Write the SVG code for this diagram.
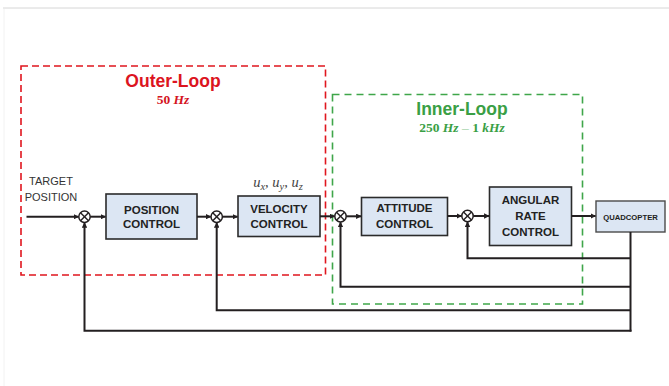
<svg xmlns="http://www.w3.org/2000/svg" width="669" height="386" viewBox="0 0 669 386">
<style>
  .box { fill: #dce6f3; stroke: #2b2b2b; stroke-width: 1.6; }
  .lbl { font-family: "Liberation Sans", Arial, sans-serif; font-weight: bold; font-size: 11.5px; fill: #222; text-anchor: middle; }
  .wire { fill: none; stroke: #231f20; stroke-width: 2; }
  .sum circle { fill: #fff; stroke: #231f20; stroke-width: 1.5; }
  .sum line { stroke: #231f20; stroke-width: 1.5; }
  .math { font-family: "Liberation Serif", "Times New Roman", serif; font-weight: bold; text-anchor: middle; }
</style>
<defs>
  <marker id="arr" viewBox="0 0 10 10" refX="9" refY="5" markerWidth="5.5" markerHeight="5.5" markerUnits="userSpaceOnUse" orient="auto">
    <path d="M0,0 L10,5 L0,10 z" fill="#231f20"/>
  </marker>
</defs>
<rect width="669" height="386" fill="#fff"/>
<line x1="3" y1="8" x2="669" y2="8" stroke="#d6d6d6" stroke-width="1"/>
<line x1="4" y1="9" x2="4" y2="386" stroke="#f2f2f2" stroke-width="1"/>

<g id="outer-loop">
  <rect x="21" y="66" width="304.5" height="209" fill="none" stroke="#e0161e" stroke-width="1.6" stroke-dasharray="7,4"/>
  <text x="173" y="87" font-family="Liberation Sans, Arial, sans-serif" font-weight="bold" font-size="17.5" fill="#dc1420" text-anchor="middle">Outer-Loop</text>
  <text x="173" y="104" class="math" font-size="13.5" fill="#d4141e">50 <tspan font-style="italic">Hz</tspan></text>
</g>

<g id="inner-loop">
  <rect x="332.5" y="94.5" width="250" height="209.5" fill="none" stroke="#3fa64a" stroke-width="1.6" stroke-dasharray="7,5"/>
  <text x="462" y="115" font-family="Liberation Sans, Arial, sans-serif" font-weight="bold" font-size="17.5" fill="#3a9f45" text-anchor="middle">Inner-Loop</text>
  <text x="462" y="132" class="math" font-size="13.5" fill="#3a9f45">250 <tspan font-style="italic">Hz</tspan> <tspan font-weight="normal" fill="#9acf9f">–</tspan> 1 <tspan font-style="italic">kHz</tspan></text>
</g>

<g id="target-position">
  <text font-family="Liberation Sans, Arial, sans-serif" font-size="11" fill="#333" text-anchor="middle"><tspan x="51" y="185">TARGET</tspan><tspan x="51" y="200.5">POSITION</tspan></text>
</g>

<g id="velocity-label">
  <text x="278" y="187" font-family="Liberation Serif, Times New Roman, serif" font-style="italic" font-size="14.5" fill="#444" text-anchor="middle">u<tspan font-size="10.5" dy="2.5">x</tspan><tspan dy="-2.5">, u</tspan><tspan font-size="10.5" dy="2.5">y</tspan><tspan dy="-2.5">, u</tspan><tspan font-size="10.5" dy="2.5">z</tspan></text>
</g>

<g id="position-control">
  <rect class="box" x="106" y="194" width="91" height="45"/>
  <text class="lbl"><tspan x="151.5" y="213.5">POSITION</tspan><tspan x="151.5" y="228">CONTROL</tspan></text>
</g>

<g id="velocity-control">
  <rect class="box" x="238" y="196" width="82" height="40.5"/>
  <text class="lbl"><tspan x="279" y="213.3">VELOCITY</tspan><tspan x="279" y="228.3">CONTROL</tspan></text>
</g>

<g id="attitude-control">
  <rect class="box" x="361.5" y="197.5" width="86" height="38"/>
  <text class="lbl"><tspan x="404.5" y="212.3">ATTITUDE</tspan><tspan x="404.5" y="227.7">CONTROL</tspan></text>
</g>

<g id="angular-rate-control">
  <rect class="box" x="489.5" y="187" width="82" height="58.5"/>
  <text class="lbl"><tspan x="530.5" y="204">ANGULAR</tspan><tspan x="530.5" y="220">RATE</tspan><tspan x="530.5" y="235.7">CONTROL</tspan></text>
</g>

<g id="quadcopter">
  <rect x="596" y="201" width="69" height="31" fill="#dce6f3" stroke="#4a4a4a" stroke-width="1.4"/>
  <text x="630.5" y="219.5" font-family="Liberation Sans, Arial, sans-serif" font-weight="bold" font-size="7.7" fill="#222" text-anchor="middle">QUADCOPTER</text>
</g>

<g id="sum1" class="sum">
  <circle cx="84.5" cy="216.7" r="5.7"/>
  <line x1="80.5" y1="212.7" x2="88.5" y2="220.7"/><line x1="88.5" y1="212.7" x2="80.5" y2="220.7"/>
</g>
<g id="sum2" class="sum">
  <circle cx="216.7" cy="216.7" r="5.7"/>
  <line x1="212.7" y1="212.7" x2="220.7" y2="220.7"/><line x1="220.7" y1="212.7" x2="212.7" y2="220.7"/>
</g>
<g id="sum3" class="sum">
  <circle cx="340.5" cy="216.3" r="5.7"/>
  <line x1="336.5" y1="212.3" x2="344.5" y2="220.3"/><line x1="344.5" y1="212.3" x2="336.5" y2="220.3"/>
</g>
<g id="sum4" class="sum">
  <circle cx="467.5" cy="216" r="5.7"/>
  <line x1="463.5" y1="212" x2="471.5" y2="220"/><line x1="471.5" y1="212" x2="463.5" y2="220"/>
</g>

<g id="connectors">
  <line class="wire" x1="26.5" y1="216.7" x2="78.5" y2="216.7" stroke-width="1.6" marker-end="url(#arr)"/>
  <line class="wire" x1="90.2" y1="216.7" x2="105.5" y2="216.7" stroke-width="1.6" marker-end="url(#arr)"/>
  <line class="wire" x1="197" y1="216.7" x2="210.7" y2="216.7" stroke-width="1.6" marker-end="url(#arr)"/>
  <line class="wire" x1="222.4" y1="216.7" x2="237.5" y2="216.7" stroke-width="1.6" marker-end="url(#arr)"/>
  <line class="wire" x1="320" y1="216.3" x2="334.5" y2="216.3" stroke-width="1.6" marker-end="url(#arr)"/>
  <line class="wire" x1="346.2" y1="216.3" x2="361" y2="216.3" stroke-width="1.6" marker-end="url(#arr)"/>
  <line class="wire" x1="447.5" y1="216" x2="461.5" y2="216" stroke-width="1.6" marker-end="url(#arr)"/>
  <line class="wire" x1="473.2" y1="216" x2="489" y2="216" stroke-width="1.6" marker-end="url(#arr)"/>
  <line class="wire" x1="571.5" y1="216" x2="595.5" y2="216" stroke-width="1.6" marker-end="url(#arr)"/>
  <line class="wire" x1="630.5" y1="232" x2="630.5" y2="331.5"/>
  <polyline class="wire" points="630.5,258.3 467.5,258.3 467.5,222" marker-end="url(#arr)"/>
  <polyline class="wire" points="630.5,286.7 340.5,286.7 340.5,222.3" marker-end="url(#arr)"/>
  <polyline class="wire" points="630.5,310.3 216.7,310.3 216.7,222.7" marker-end="url(#arr)"/>
  <polyline class="wire" points="631.5,330.7 84.5,330.7 84.5,222.7" marker-end="url(#arr)"/>
</g>
</svg>
